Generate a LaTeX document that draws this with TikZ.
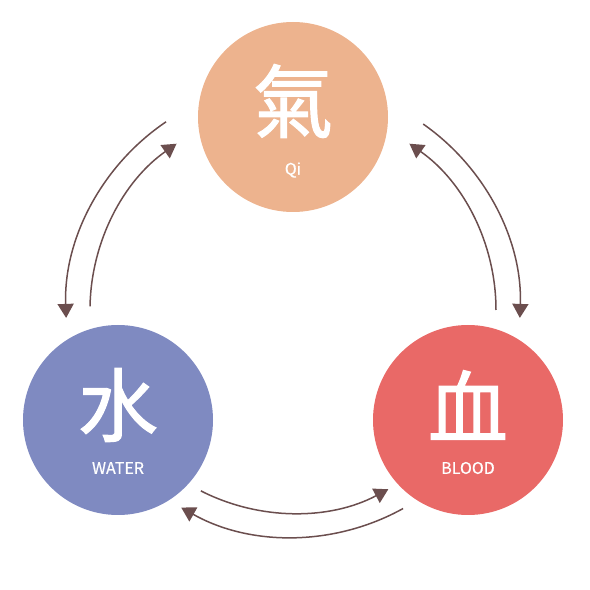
\documentclass[tikz,border=0pt]{standalone}
\usepackage{fontspec}
\setmainfont{Noto Sans CJK TC}
\newfontfamily\glyphfont{Noto Sans CJK TC}[FakeBold=1.4]
\newfontfamily\tagfont{Noto Sans CJK TC}[FakeBold=0.6]
\usetikzlibrary{arrows.meta,calc}
\definecolor{qiCol}{HTML}{EDB38E}
\definecolor{waterCol}{HTML}{7F8AC1}
\definecolor{bloodCol}{HTML}{E96967}
\definecolor{arrCol}{HTML}{6B4E4E}
\tikzset{
  elem/.style={circle, minimum size=190pt, inner sep=0pt},
  glyph/.style={font=\glyphfont\fontsize{80}{80}\selectfont, text=white, inner sep=0pt},
  tag/.style={font=\tagfont\fontsize{16}{16}\selectfont, text=white, inner sep=0pt},
  flow/.style={-{Triangle[length=14pt,width=16pt]}, line width=1.5pt, arrCol},
}

\begin{document}
\begin{tikzpicture}[x=1pt,y=1pt]
  \useasboundingbox (0,0) rectangle (590,590);
  \coordinate (hub) at (293,280);

  % the three elements
  \node[elem, fill=qiCol]    (qi)    at (293,473) {};
  \node[elem, fill=waterCol] (water) at (118,170) {};
  \node[elem, fill=bloodCol] (blood) at (468,170) {};
  \node[glyph] (qiG)    at ([yshift=16pt]qi.center)    {氣};
  \node[glyph] (waterG) at ([yshift=15pt]water.center) {水};
  \node[glyph] (bloodG) at ([yshift=15pt]blood.center) {血};
  \node[tag] (qiT)    at ([yshift=-53pt]qi.center)    {Qi};
  \node[tag] (waterT) at ([yshift=-48pt]water.center) {WATER};
  \node[tag] (bloodT) at ([yshift=-48pt]blood.center) {BLOOD};

  % arc ends round the hub
  \coordinate (qw) at ($(hub)+(124:227pt)$);
  \coordinate (wq) at ($(hub)+(179:203pt)$);
  \coordinate (qb) at ($(hub)+(55:227pt)$);
  \coordinate (bq) at ($(hub)+(0:203pt)$);
  \coordinate (wb) at ($(hub)+(243:203pt)$);
  \coordinate (bw) at ($(hub)+(299:227pt)$);

  \draw[flow] (qw) arc[start angle=124, end angle=182, radius=227pt];
  \draw[flow] (wq) arc[start angle=179, end angle=125, radius=203pt];
  \draw[flow] (qb) arc[start angle=55,  end angle=-2,  radius=227pt];
  \draw[flow] (bq) arc[start angle=0,   end angle=55,  radius=203pt];
  \draw[flow] (wb) arc[start angle=243, end angle=298, radius=203pt];
  \draw[flow] (bw) arc[start angle=299, end angle=240.5, radius=227pt];
\end{tikzpicture}
\end{document}
